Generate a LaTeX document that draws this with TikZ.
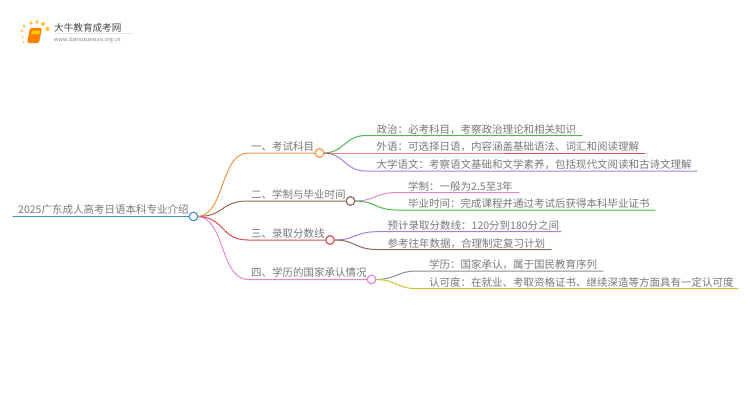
\documentclass[tikz,border=0pt]{standalone}
\usepackage{fontspec}
\setmainfont{Noto Sans CJK SC}
\setsansfont{Noto Sans CJK SC}
\definecolor{cblue}{HTML}{3D8FD1}
\definecolor{corange}{HTML}{F5923E}
\definecolor{cbrown}{HTML}{94665C}
\definecolor{cred}{HTML}{E04848}
\definecolor{cpink}{HTML}{E685CF}
\definecolor{cgreen}{HTML}{4DB84D}
\definecolor{cpurple}{HTML}{A680D6}
\definecolor{cgray}{HTML}{8C8C8C}
\definecolor{colive}{HTML}{C4C436}
\definecolor{ctext}{HTML}{777777}
\tikzset{
 x=1pt,y=-1pt,
 lbl/.style={font=\fontsize{10.5pt}{12pt}\selectfont,text=ctext,inner sep=0pt,anchor=base west},
 hub/.style={circle,draw=#1,fill=white,line width=1pt,minimum size=8.5pt,inner sep=0pt},
 edge/.style={line width=1pt,draw=#1,line cap=round},
}
\newcommand{\lnk}[5]{\draw[edge=#1] (#2) .. controls ([xshift=#5]#2) and ([xshift=-#5]#3) .. (#3) -- (#4);}
\begin{document}
\begin{tikzpicture}
\useasboundingbox (0,0) rectangle (750,410);
% logo
\foreach \a/\b/\r in {24/26/1.6,31/23/1.9,37/22/1.9,43/24/2,47.5/29/2.2,22/31/1.4,22.5/37/1.2,23.5/42/1}
  \fill[orange!60!yellow,opacity=.75] (\a,\b) circle (\r);
\fill[orange,rounded corners=1.5pt] (30,28) -- (42,28) -- (39,43) -- (27,43) -- cycle;
\fill[orange!40!yellow] (32,30.5) -- (40,30.5) -- (39.3,34) -- (31.2,34) -- cycle;
\draw[black!10,line width=.5pt] (54,33.5) -- (133,33.5);
\node[inner sep=0pt,anchor=base west,font=\fontsize{9.6pt}{11pt}\selectfont,text=black!72] (logot) at (54,31.5) {大牛教育成考网};
\node[inner sep=0pt,anchor=base west,font=\fontsize{5.5pt}{6pt}\selectfont,text=black!50] (logou) at (54,41) {www.daniuxuexiao.org.cn};
% coordinates
\coordinate (r0) at (13,216.5);
\node[hub=cblue] (root) at (193.5,216.5) {};
\node[hub=corange] (h1) at (319.5,153) {};
\node[hub=cbrown] (h2) at (350.5,201) {};
\node[hub=cred] (h3) at (330,240) {};
\node[hub=cpink] (h4) at (371.5,279.5) {};
\coordinate (a1) at (248,153); \coordinate (a2) at (248,201); \coordinate (a3) at (248,240); \coordinate (a4) at (248,279.5);
\foreach \n/\y/\xa/\xb in {l1/135.5/366/582,l2/153/366/645,l3/171/366/697,m1/192.5/397/519,m2/210/397/655,n1/231.7/377/561,n2/249.5/377/551,o1/271/418/603,o2/288.7/418/738}{
 \coordinate (\n s) at (\xa,\y); \coordinate (\n e) at (\xb,\y);}
\coordinate (rr) at (197,216.5);
\draw[edge=cblue] (r0) -- (root.west);
\lnk{corange}{rr}{a1}{h1.west}{28pt}
\lnk{cbrown}{rr}{a2}{h2.west}{28pt}
\lnk{cred}{rr}{a3}{h3.west}{28pt}
\lnk{cpink}{rr}{a4}{h4.west}{28pt}
\coordinate (s1) at (323,153); \coordinate (s2) at (354,201); \coordinate (s3) at (334,240); \coordinate (s4) at (375,279.5);
\lnk{cgreen}{s1}{l1s}{l1e}{22pt}
\lnk{cpurple}{s1}{l3s}{l3e}{22pt}
\lnk{cred}{s1}{l2s}{l2e}{22pt}
\lnk{cpink}{s2}{m1s}{m1e}{22pt}
\lnk{cgreen}{s2}{m2s}{m2e}{22pt}
\lnk{cpurple}{s3}{n1s}{n1e}{22pt}
\lnk{cbrown}{s3}{n2s}{n2e}{22pt}
\lnk{cgray}{s4}{o1s}{o1e}{22pt}
\lnk{colive}{s4}{o2s}{o2e}{22pt}
\node[hub=cblue] at (root) {};
\node[hub=corange] at (h1) {};
\node[hub=cbrown] at (h2) {};
\node[hub=cred] at (h3) {};
\node[hub=cpink] at (h4) {};
% labels
\node[lbl] (t0) at (18,213.5) {2025广东成人高考日语本科专业介绍};
\node[lbl] (t1) at (251,150) {一、考试科目};
\node[lbl] (t2) at (251,198) {二、学制与毕业时间};
\node[lbl] (t3) at (251,237) {三、录取分数线};
\node[lbl] (t4) at (251,276.5) {四、学历的国家承认情况};
\node[lbl] at (376.5,133) {政治：必考科目，考察政治理论和相关知识};
\node[lbl] at (376.5,150.5) {外语：可选择日语，内容涵盖基础语法、词汇和阅读理解};
\node[lbl] at (376.5,168.5) {大学语文：考察语文基础和文学素养，包括现代文阅读和古诗文理解};
\node[lbl] at (408,190) {学制：一般为2.5至3年};
\node[lbl] at (408,207.5) {毕业时间：完成课程并通过考试后获得本科毕业证书};
\node[lbl] at (387.5,229) {预计录取分数线：120分到180分之间};
\node[lbl] at (387.5,247) {参考往年数据，合理制定复习计划};
\node[lbl] at (429,268.5) {学历：国家承认，属于国民教育序列};
\node[lbl] at (429,286) {认可度：在就业、考取资格证书、继续深造等方面具有一定认可度};
\end{tikzpicture}
\end{document}
